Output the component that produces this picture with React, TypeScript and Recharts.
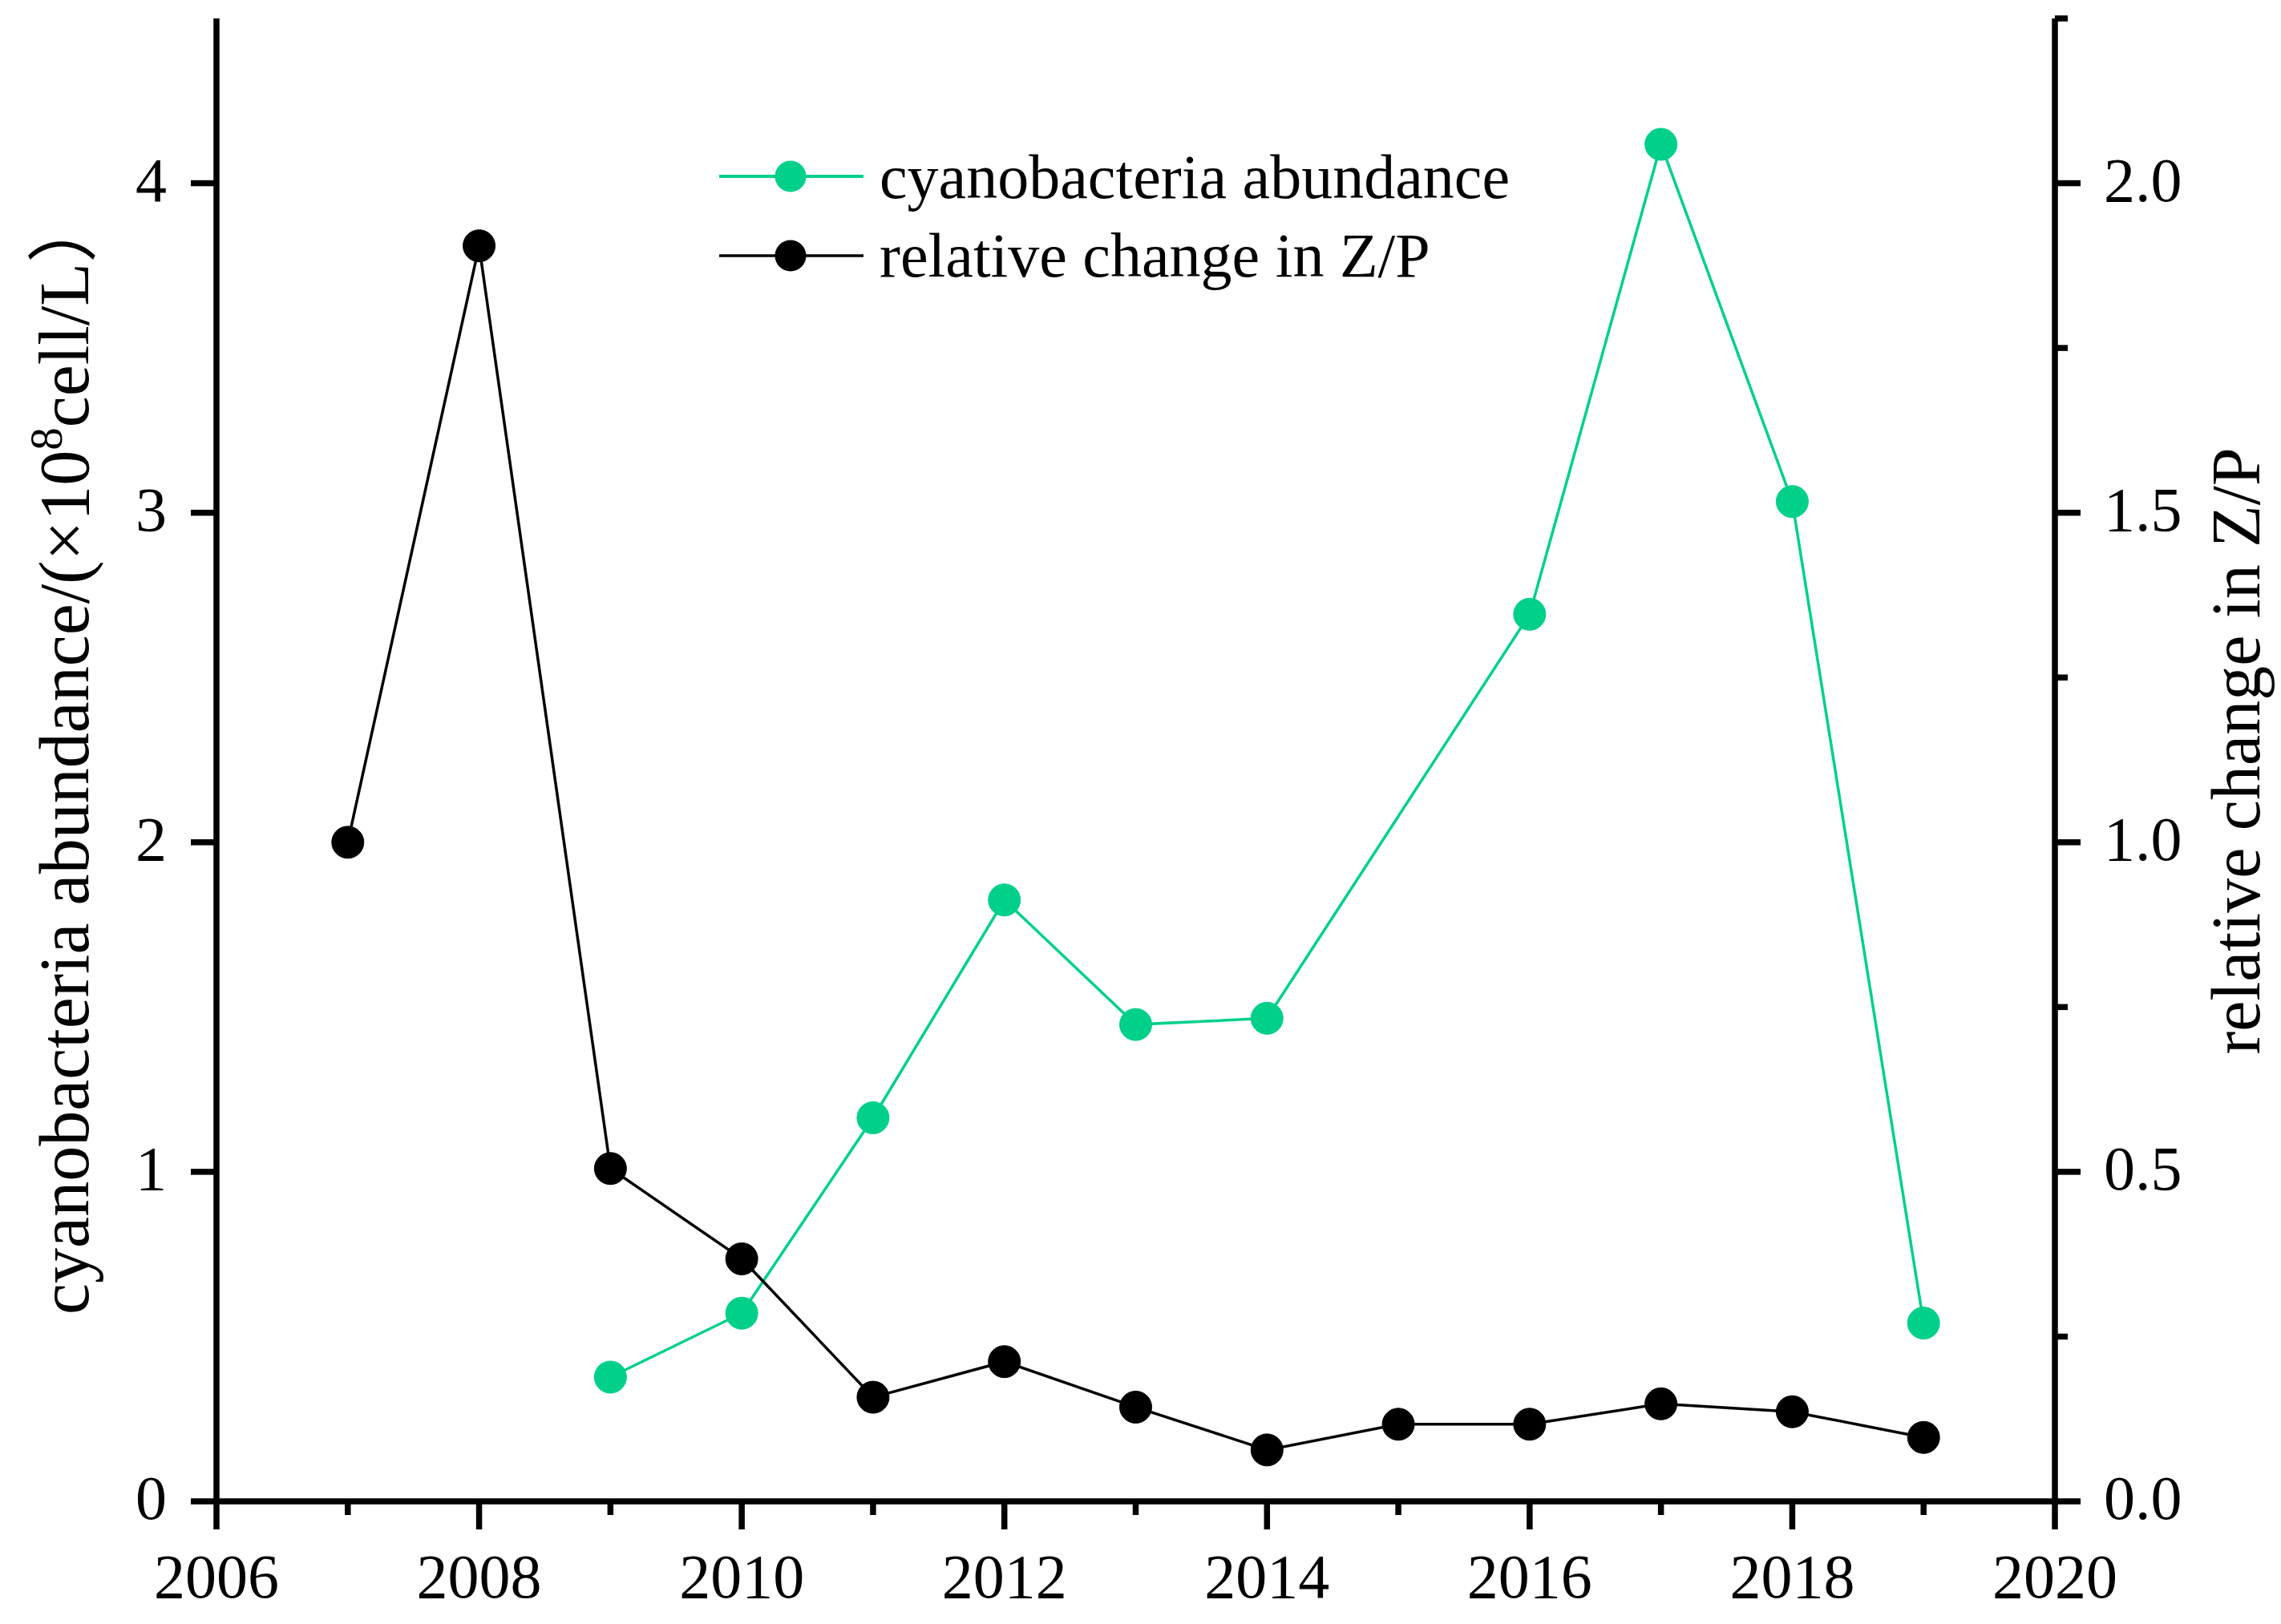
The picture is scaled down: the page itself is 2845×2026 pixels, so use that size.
import React from "react"
import { LineChart, Line, XAxis, YAxis } from "recharts"

// data
const years = [2007, 2008, 2009, 2010, 2011, 2012, 2013, 2014, 2015, 2016, 2017, 2018, 2019]
const cyanobacteria = [null, null, 0.377, 0.571, 1.164, 1.825, 1.447, 1.466, null, 2.692, 4.118, 3.034, 0.541]
const zpChange = [1.0, 1.905, 0.505, 0.368, 0.158, 0.212, 0.143, 0.078, 0.117, 0.117, 0.148, 0.136, 0.097]

const xTicks = [2006, 2007, 2008, 2009, 2010, 2011, 2012, 2013, 2014, 2015, 2016, 2017, 2018, 2019, 2020]
const leftTicks = [0, 1, 2, 3, 4]
const rightTicks = [0, 0.25, 0.5, 0.75, 1, 1.25, 1.5, 1.75, 2, 2.25]

const data = years.map((year, i) => ({
  year,
  cyano: cyanobacteria[i],
  zp: zpChange[i],
}))

const W = 2845
const H = 2026
const GREEN = "#00D08A"
const AXIS_W = 7.5
const FONT = "'Liberation Serif', 'Times New Roman', 'Noto Sans CJK SC', serif"
const TICK_FONT = 78
const TITLE_FONT = 86

function XTick(props: any) {
  const { x, y, payload } = props
  const major = payload.value % 2 === 0
  return (
    <g>
      <line x1={x} x2={x} y1={y} y2={y + (major ? 35 : 17)} stroke="#000" strokeWidth={AXIS_W} />
      {major && (
        <text x={x} y={y + 120} textAnchor="middle" fontFamily={FONT} fontSize={TICK_FONT} fill="#000">
          {payload.value}
        </text>
      )}
    </g>
  )
}

function LeftTick(props: any) {
  const { x, y, payload } = props
  return (
    <g>
      <line x1={x} x2={x - 32} y1={y} y2={y} stroke="#000" strokeWidth={AXIS_W} />
      <text x={x - 62} y={y + 22} textAnchor="end" fontFamily={FONT} fontSize={TICK_FONT} fill="#000">
        {payload.value}
      </text>
    </g>
  )
}

function RightTick(props: any) {
  const { x, y, payload } = props
  const v = payload.value
  const major = Math.abs(v * 2 - Math.round(v * 2)) < 1e-6
  return (
    <g>
      <line x1={x} x2={x + (major ? 32 : 16)} y1={y} y2={y} stroke="#000" strokeWidth={AXIS_W} />
      {major && (
        <text x={x + 61} y={y + 22} textAnchor="start" fontFamily={FONT} fontSize={TICK_FONT} fill="#000">
          {v.toFixed(1)}
        </text>
      )}
    </g>
  )
}

// legend + axis titles drawn over the chart
function Overlay() {
  return (
    <svg
      width={W}
      height={H}
      style={{ position: "absolute", left: 0, top: 0, pointerEvents: "none" }}
    >
      <g fontFamily={FONT} fill="#000">
        <line x1={897} x2={1077} y1={220} y2={220} stroke={GREEN} strokeWidth={4} />
        <circle cx={986} cy={220} r={19.5} fill={GREEN} />
        <text x={1097} y={247} fontSize={TICK_FONT}>cyanobacteria abundance</text>

        <line x1={897} x2={1077} y1={319} y2={319} stroke="#000" strokeWidth={3.3} />
        <circle cx={986} cy={319} r={19.5} fill="#000" />
        <text x={1097} y={345} fontSize={TICK_FONT}>relative change in Z/P</text>

        <text transform="translate(110,940) rotate(-90)" textAnchor="middle" fontSize={88}>
          cyanobacteria abundance/(×10
          <tspan dy={-33} fontSize={57}>8</tspan>
          <tspan dy={33}>cell/L）</tspan>
        </text>

        <text transform="translate(2818,937) rotate(-90)" textAnchor="middle" fontSize={TITLE_FONT}>
          relative change in Z/P
        </text>
      </g>
    </svg>
  )
}

export default function App() {
  return (
    <div style={{ position: "absolute", left: 0, top: 0, width: W, height: H, background: "#fff" }}>
      <LineChart width={W} height={H} data={data} margin={{ top: 23, right: 0, bottom: 0, left: 0 }}>
        <XAxis
          dataKey="year"
          type="number"
          domain={[2006, 2020]}
          ticks={xTicks}
          interval={0}
          height={153}
          tickSize={0}
          tickMargin={0}
          tickLine={false}
          axisLine={{ stroke: "#000", strokeWidth: AXIS_W }}
          tick={<XTick />}
          allowDataOverflow
        />
        <YAxis
          yAxisId="left"
          orientation="left"
          domain={[0, 4.5]}
          ticks={leftTicks}
          interval={0}
          width={270}
          tickSize={0}
          tickMargin={0}
          tickLine={false}
          axisLine={{ stroke: "#000", strokeWidth: AXIS_W }}
          tick={<LeftTick />}
          allowDataOverflow
        />
        <YAxis
          yAxisId="right"
          orientation="right"
          domain={[0, 2.25]}
          ticks={rightTicks}
          interval={0}
          width={282}
          tickSize={0}
          tickMargin={0}
          tickLine={false}
          axisLine={{ stroke: "#000", strokeWidth: AXIS_W }}
          tick={<RightTick />}
          allowDataOverflow
        />
        <Line
          yAxisId="left"
          dataKey="cyano"
          stroke={GREEN}
          strokeWidth={3.5}
          dot={{ r: 20, fill: GREEN, stroke: GREEN, strokeWidth: 1 }}
          activeDot={false}
          connectNulls
          isAnimationActive={false}
        />
        <Line
          yAxisId="right"
          dataKey="zp"
          stroke="#000"
          strokeWidth={3.5}
          dot={{ r: 20, fill: "#000", stroke: "#000", strokeWidth: 1 }}
          activeDot={false}
          connectNulls
          isAnimationActive={false}
        />
      </LineChart>
      <Overlay />
    </div>
  )
}
